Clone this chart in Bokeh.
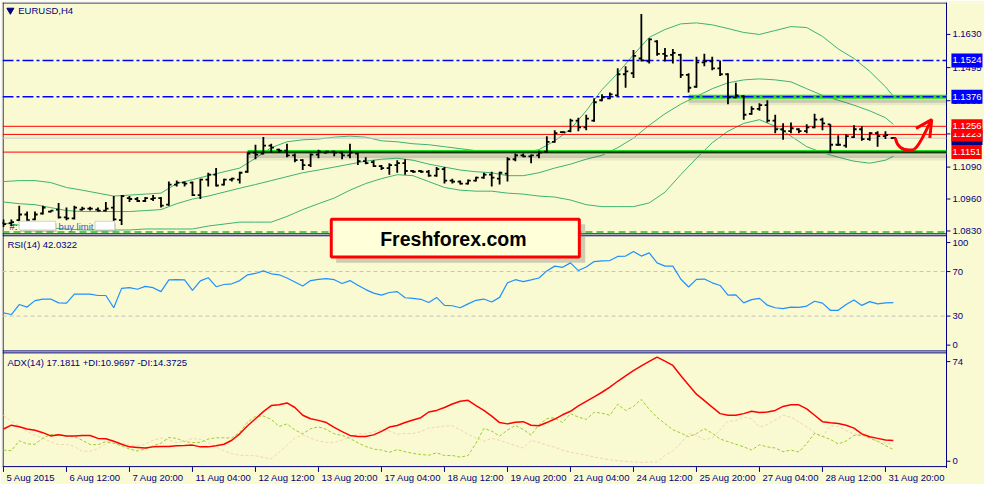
"""EURUSD H4 chart with Bollinger bands, RSI(14) and ADX(14) panels."""

from bokeh.core.properties import value
from bokeh.embed import file_html
from bokeh.models import ColumnDataSource, Label, Range1d
from bokeh.plotting import figure
from bokeh.resources import INLINE
from bokeh.transform import dodge

# ---------------------------------------------------------------- data
time_ticks = [0, 8, 16, 24, 32, 40, 48, 56, 64, 72, 80, 88, 96, 104, 112]
time_labels = ["5 Aug 2015", "6 Aug 12:00", "7 Aug 20:00", "11 Aug 04:00",
               "12 Aug 12:00", "13 Aug 20:00", "17 Aug 04:00", "18 Aug 12:00",
               "19 Aug 20:00", "21 Aug 04:00", "24 Aug 12:00", "25 Aug 20:00",
               "27 Aug 04:00", "28 Aug 12:00", "31 Aug 20:00"]

bar_open = [
    1.0862, 1.0862, 1.0874, 1.0897, 1.0877, 1.0901, 1.0909, 1.0917, 1.0885, 1.0881,
    1.0917, 1.0921, 1.0917, 1.0913, 1.0925, 1.0874, 1.0964, 1.0960, 1.0952, 1.0960,
    1.0964, 1.0937, 1.1019, 1.1027, 1.1027, 1.0976, 1.1039, 1.1059, 1.1019, 1.1039,
    1.1039, 1.1071, 1.1149, 1.1145, 1.1177, 1.1161, 1.1157, 1.1138, 1.1118, 1.1098,
    1.1141, 1.1149, 1.1153, 1.1149, 1.1138, 1.1145, 1.1114, 1.1110, 1.1094, 1.1086,
    1.1098, 1.1106, 1.1074, 1.1074, 1.1071, 1.1055, 1.1082, 1.1035, 1.1031, 1.1023,
    1.1035, 1.1047, 1.1059, 1.1043, 1.1063, 1.1122, 1.1138, 1.1134, 1.1138, 1.1153,
    1.1193, 1.1232, 1.1236, 1.1279, 1.1252, 1.1279, 1.1362, 1.1370, 1.1382, 1.1468,
    1.1472, 1.1532, 1.1520, 1.1602, 1.1551, 1.1547, 1.1547, 1.1465, 1.1417, 1.1516,
    1.1520, 1.1492, 1.1468, 1.1374, 1.1378, 1.1307, 1.1327, 1.1342, 1.1279, 1.1244,
    1.1236, 1.1244, 1.1236, 1.1252, 1.1283, 1.1264, 1.1181, 1.1177, 1.1212, 1.1244,
    1.1204, 1.1228, 1.1216, 1.1208]
bar_high = [
    1.0877, 1.0877, 1.0933, 1.0909, 1.0909, 1.0933, 1.0913, 1.0944, 1.0925, 1.0933,
    1.0929, 1.0929, 1.0925, 1.0948, 1.0972, 1.0976, 1.0972, 1.0968, 1.0968, 1.0976,
    1.0968, 1.1031, 1.1035, 1.1031, 1.1031, 1.1043, 1.1067, 1.1086, 1.1043, 1.1047,
    1.1071, 1.1149, 1.1181, 1.1212, 1.1185, 1.1165, 1.1185, 1.1145, 1.1122, 1.1145,
    1.1161, 1.1157, 1.1157, 1.1153, 1.1185, 1.1149, 1.1130, 1.1118, 1.1098, 1.1106,
    1.1118, 1.1122, 1.1078, 1.1078, 1.1078, 1.1090, 1.1090, 1.1043, 1.1035, 1.1039,
    1.1051, 1.1067, 1.1071, 1.1071, 1.1130, 1.1145, 1.1145, 1.1141, 1.1157, 1.1216,
    1.1240, 1.1236, 1.1287, 1.1291, 1.1303, 1.1370, 1.1386, 1.1394, 1.1492, 1.1500,
    1.1567, 1.1713, 1.1614, 1.1606, 1.1575, 1.1571, 1.1551, 1.1472, 1.1539, 1.1551,
    1.1539, 1.1524, 1.1472, 1.1433, 1.1382, 1.1338, 1.1350, 1.1362, 1.1303, 1.1268,
    1.1271, 1.1248, 1.1264, 1.1307, 1.1291, 1.1264, 1.1220, 1.1224, 1.1260, 1.1256,
    1.1232, 1.1236, 1.1236, 1.1212]
bar_low = [
    1.0846, 1.0850, 1.0870, 1.0870, 1.0874, 1.0897, 1.0905, 1.0881, 1.0874, 1.0877,
    1.0913, 1.0913, 1.0909, 1.0909, 1.0870, 1.0854, 1.0948, 1.0948, 1.0948, 1.0952,
    1.0925, 1.0933, 1.1011, 1.1011, 1.0972, 1.0960, 1.1011, 1.1011, 1.1015, 1.1031,
    1.1023, 1.1067, 1.1122, 1.1141, 1.1149, 1.1149, 1.1130, 1.1110, 1.1078, 1.1090,
    1.1126, 1.1145, 1.1134, 1.1122, 1.1126, 1.1098, 1.1102, 1.1090, 1.1078, 1.1059,
    1.1067, 1.1059, 1.1067, 1.1067, 1.1051, 1.1051, 1.1023, 1.1023, 1.1019, 1.1019,
    1.1031, 1.1043, 1.1011, 1.1019, 1.1031, 1.1114, 1.1130, 1.1106, 1.1126, 1.1149,
    1.1189, 1.1228, 1.1232, 1.1236, 1.1240, 1.1275, 1.1358, 1.1366, 1.1378, 1.1413,
    1.1453, 1.1520, 1.1512, 1.1543, 1.1520, 1.1512, 1.1453, 1.1394, 1.1413, 1.1500,
    1.1484, 1.1461, 1.1346, 1.1370, 1.1283, 1.1303, 1.1319, 1.1271, 1.1228, 1.1201,
    1.1228, 1.1228, 1.1228, 1.1248, 1.1240, 1.1149, 1.1177, 1.1169, 1.1208, 1.1197,
    1.1197, 1.1173, 1.1204, 1.1208]
bar_close = [
    1.0858, 1.0866, 1.0897, 1.0874, 1.0897, 1.0925, 1.0913, 1.0885, 1.0881, 1.0925,
    1.0921, 1.0921, 1.0913, 1.0921, 1.0877, 1.0972, 1.0960, 1.0952, 1.0964, 1.0964,
    1.0933, 1.1019, 1.1027, 1.1023, 1.0976, 1.1039, 1.1059, 1.1015, 1.1039, 1.1043,
    1.1067, 1.1145, 1.1141, 1.1177, 1.1169, 1.1157, 1.1138, 1.1118, 1.1098, 1.1141,
    1.1153, 1.1153, 1.1149, 1.1138, 1.1149, 1.1114, 1.1106, 1.1094, 1.1086, 1.1098,
    1.1106, 1.1074, 1.1071, 1.1071, 1.1055, 1.1082, 1.1035, 1.1031, 1.1023, 1.1035,
    1.1047, 1.1059, 1.1047, 1.1067, 1.1122, 1.1138, 1.1134, 1.1138, 1.1149, 1.1193,
    1.1228, 1.1232, 1.1279, 1.1252, 1.1287, 1.1354, 1.1374, 1.1386, 1.1468, 1.1480,
    1.1543, 1.1524, 1.1610, 1.1551, 1.1543, 1.1555, 1.1465, 1.1413, 1.1516, 1.1520,
    1.1492, 1.1468, 1.1374, 1.1382, 1.1303, 1.1327, 1.1342, 1.1279, 1.1244, 1.1236,
    1.1248, 1.1236, 1.1252, 1.1283, 1.1268, 1.1181, 1.1181, 1.1216, 1.1244, 1.1204,
    1.1228, 1.1216, 1.1220, 1.1208]

# Bollinger bands, read every second bar
band_index = list(range(0, 113, 2)) + [113]
band_upper = [
    1.1031, 1.1035, 1.1035, 1.1027, 1.1007, 1.0996, 1.0984, 1.0972, 1.0976, 1.0980,
    1.0984, 1.1023, 1.1039, 1.1055, 1.1071, 1.1086, 1.1126, 1.1169, 1.1193, 1.1201,
    1.1204, 1.1212, 1.1216, 1.1212, 1.1197, 1.1193, 1.1185, 1.1181, 1.1173, 1.1165,
    1.1157, 1.1153, 1.1149, 1.1149, 1.1161, 1.1197, 1.1244, 1.1319, 1.1405, 1.1472,
    1.1547, 1.1618, 1.1650, 1.1673, 1.1677, 1.1669, 1.1654, 1.1638, 1.1630, 1.1646,
    1.1662, 1.1658, 1.1622, 1.1571, 1.1532, 1.1480, 1.1417, 1.1378]
band_middle = [
    1.0948, 1.0941, 1.0937, 1.0925, 1.0913, 1.0909, 1.0909, 1.0909, 1.0909, 1.0913,
    1.0917, 1.0941, 1.0960, 1.0972, 1.0988, 1.1004, 1.1019, 1.1035, 1.1051, 1.1067,
    1.1078, 1.1090, 1.1102, 1.1114, 1.1122, 1.1126, 1.1118, 1.1102, 1.1090, 1.1078,
    1.1071, 1.1067, 1.1055, 1.1055, 1.1067, 1.1086, 1.1102, 1.1122, 1.1138, 1.1169,
    1.1208, 1.1260, 1.1307, 1.1346, 1.1378, 1.1409, 1.1433, 1.1445, 1.1449, 1.1445,
    1.1437, 1.1409, 1.1382, 1.1362, 1.1342, 1.1319, 1.1291, 1.1264]
band_lower = [
    1.0862, 1.0854, 1.0850, 1.0842, 1.0838, 1.0834, 1.0834, 1.0834, 1.0834, 1.0838,
    1.0838, 1.0838, 1.0838, 1.0850, 1.0858, 1.0866, 1.0866, 1.0866, 1.0889, 1.0917,
    1.0941, 1.0964, 1.0996, 1.1023, 1.1043, 1.1059, 1.1055, 1.1031, 1.1007, 1.0996,
    1.0992, 1.0992, 1.0984, 1.0980, 1.0972, 1.0968, 1.0956, 1.0937, 1.0929, 1.0929,
    1.0929, 1.0944, 1.0988, 1.1059, 1.1126, 1.1189, 1.1236, 1.1268, 1.1283, 1.1256,
    1.1216, 1.1173, 1.1149, 1.1130, 1.1114, 1.1106, 1.1118, 1.1134]

rsi = [
    32.9, 31.4, 40.4, 38.1, 43.9, 45.3, 45.3, 41.9, 41.6, 49.7,
    49.7, 49.7, 48.5, 48.5, 37.5, 54.9, 55.5, 54.1, 56.7, 55.5,
    52.0, 62.5, 62.7, 62.5, 53.2, 61.6, 64.5, 56.4, 58.4, 59.0,
    61.9, 67.1, 68.3, 70.6, 68.0, 67.1, 64.2, 60.7, 57.0, 61.9,
    63.0, 63.6, 62.7, 59.3, 61.9, 57.8, 53.8, 50.6, 48.8, 51.2,
    52.0, 46.5, 45.9, 45.1, 42.2, 46.8, 39.6, 39.3, 37.5, 41.0,
    44.2, 45.3, 42.7, 46.8, 59.9, 62.7, 61.0, 62.5, 64.2, 70.6,
    74.9, 73.8, 77.8, 70.9, 74.1, 79.0, 79.6, 79.9, 83.6, 83.9,
    88.0, 83.9, 86.8, 77.8, 74.9, 74.9, 63.3, 56.1, 63.0, 63.3,
    59.9, 57.5, 48.8, 49.1, 41.9, 44.8, 45.9, 39.8, 37.5, 36.7,
    38.1, 37.8, 39.0, 43.3, 41.6, 35.2, 35.2, 40.4, 44.5, 39.6,
    43.0, 41.0, 41.9, 42.03]
adx = [
    25.0, 27.6, 26.5, 25.0, 24.1, 22.5, 20.3, 21.0, 20.3, 20.3,
    20.6, 20.6, 18.6, 18.4, 16.6, 14.6, 12.8, 12.4, 12.0, 12.8,
    13.1, 13.1, 13.5, 13.7, 14.0, 12.8, 12.8, 13.5, 14.6, 17.3,
    21.7, 27.2, 32.0, 36.9, 41.0, 41.5, 42.8, 39.7, 34.4, 32.0,
    30.9, 29.4, 26.1, 23.2, 20.6, 19.9, 19.9, 21.0, 23.4, 26.3,
    27.4, 29.4, 31.1, 32.7, 36.6, 37.7, 39.7, 42.1, 43.9, 44.6,
    41.0, 37.7, 33.8, 29.4, 28.5, 29.6, 30.0, 27.6, 27.2, 29.4,
    31.8, 34.7, 37.1, 40.8, 43.9, 47.0, 50.1, 53.6, 57.6, 61.3,
    64.8, 68.1, 71.2, 74.1, 71.4, 68.4, 61.5, 55.1, 48.8, 44.4,
    39.9, 35.5, 34.4, 34.4, 35.5, 37.1, 36.2, 36.6, 37.7, 40.4,
    41.5, 41.5, 38.8, 34.4, 30.0, 29.2, 28.7, 27.6, 25.6, 21.7,
    19.7, 18.6, 17.5, 17.18]
plus_di = [
    10.6, 10.2, 17.0, 14.8, 14.6, 18.8, 21.2, 21.2, 20.1, 19.7,
    17.3, 14.4, 14.2, 16.4, 15.3, 13.5, 11.3, 10.0, 11.3, 13.5,
    15.3, 19.2, 18.6, 16.4, 15.7, 15.9, 18.1, 19.0, 19.0, 18.8,
    22.8, 29.6, 33.6, 33.8, 31.6, 26.7, 28.5, 24.3, 21.7, 25.2,
    26.5, 24.7, 21.7, 20.6, 18.6, 15.5, 13.1, 11.3, 10.6, 9.1,
    10.9, 9.5, 8.4, 7.6, 7.1, 8.7, 6.9, 6.9, 5.8, 6.9,
    15.3, 25.4, 23.6, 20.1, 24.3, 27.4, 24.7, 20.8, 28.0, 32.0,
    32.7, 29.4, 35.5, 33.1, 31.6, 36.4, 35.8, 34.4, 41.9, 37.7,
    40.4, 45.2, 38.4, 32.9, 28.7, 24.5, 22.3, 19.7, 21.9, 25.2,
    22.1, 18.1, 16.4, 14.6, 12.8, 10.6, 14.2, 12.8, 12.0, 9.5,
    10.6, 9.3, 15.1, 22.1, 19.9, 17.9, 14.8, 16.8, 20.6, 21.0,
    18.8, 16.6, 13.7, 10.97]
minus_di = [
    34.2, 30.5, 27.2, 23.2, 20.8, 18.8, 16.2, 14.4, 14.4, 13.1,
    9.8, 9.8, 11.5, 14.6, 16.8, 15.5, 14.2, 13.5, 14.6, 17.3,
    18.8, 17.5, 15.7, 16.6, 18.6, 17.9, 15.7, 12.8, 10.0, 8.2,
    7.1, 6.9, 6.7, 5.6, 4.7, 9.1, 13.9, 18.8, 21.2, 18.8,
    16.8, 15.9, 15.9, 17.5, 19.5, 21.7, 21.7, 23.0, 24.5, 23.6,
    21.4, 21.9, 21.9, 23.2, 25.6, 26.3, 27.0, 27.2, 24.5, 21.4,
    18.8, 16.6, 18.6, 17.3, 15.5, 13.7, 12.0, 17.3, 15.7, 14.0,
    12.6, 10.6, 9.1, 8.2, 7.1, 5.8, 4.9, 4.0, 3.4, 2.9,
    2.5, 2.1, 2.5, 2.5, 6.9, 10.2, 15.3, 21.9, 20.6, 17.7,
    19.0, 24.3, 30.3, 30.7, 33.1, 32.0, 26.3, 28.0, 31.1, 34.4,
    33.1, 29.8, 26.5, 22.5, 19.7, 27.2, 26.7, 23.9, 21.7, 20.6,
    19.0, 16.4, 15.3, 14.37]

price_ticks = [1.0830, 1.0960, 1.1090, 1.1225, 1.1360, 1.1495, 1.1630]
rsi_ticks = [0, 30, 70, 100]
rsi_levels = [30, 70]
adx_ticks = [0, 74]

dash_levels = [1.1524, 1.1376]          # blue dash-dot lines
red_levels = [1.1256, 1.1223, 1.1151]   # red horizontal lines
zone_levels = [1.1151, 1.1376]          # thick green lines
zone_start = [31, 87]                   # bar where each green line starts
buy_limit = 1.0826
bid = 1.1208

# ---------------------------------------------------------------- look
BG = "#FAFAD2"
NAVY = "#000080"
FONT = "Liberation Sans"
FRAME_W, FRAME_H = 982, 482
SCALE_X = 944 / 959          # canvas px per reference px
REF_BOTTOM = 2 + 498         # reference row shown at the bottom of the canvas


# reference pixel -> value, per panel (chart window is 2..961 x 2..482 there)
def bar_x(px):
    return (px - 3) / 8


def price_y(py):
    return 1.1760 - (py - 2) * 0.000394


def rsi_y(py):
    return 70 - (py - 280) * 40 / 46


def adx_y(py):
    return (482 - py) / 1.513 - 1


def rsi_py(v):
    return 280 - (v - 70) * 46 / 40


def adx_py(v):
    return 482 - (v + 1) * 1.513


def nudge(py, v, ticks, px=4.5):
    # MetaTrader pulls the end labels of a sub window inwards
    if v == max(ticks):
        return py + px
    if v == min(ticks):
        return py - px
    return py


X_START = bar_x(2)
X_AXIS = bar_x(961)
PX_PRICE = 0.000394

p = figure(
    frame_width=FRAME_W, frame_height=FRAME_H,
    x_range=Range1d(X_START, bar_x(2 + FRAME_W / SCALE_X)),
    y_range=Range1d(price_y(REF_BOTTOM), price_y(2)),
    x_axis_location=None, y_axis_location=None,
    output_backend="svg", toolbar_location=None,
    min_border_left=2, min_border_right=0, min_border_top=2, min_border_bottom=0,
)
p.extra_y_ranges = {
    "rsi": Range1d(rsi_y(REF_BOTTOM), rsi_y(2)),
    "adx": Range1d(adx_y(REF_BOTTOM), adx_y(2)),
}
p.background_fill_color = BG
p.border_fill_color = BG
p.outline_line_color = None
p.grid.visible = False


def hline(levels, x0=X_START, **kw):
    n = len(levels)
    starts = x0 if isinstance(x0, list) else [x0] * n
    return p.segment(x0=starts, y0=levels, x1=[X_AXIS] * n, y1=levels, **kw)


# window borders and panel separators
hline([price_y(2.5), price_y(241), price_y(243), price_y(362), price_y(364),
       price_y(481.5)], line_color=NAVY, line_width=1)
p.segment(x0=[bar_x(2.6), X_AXIS], y0=[price_y(2), price_y(0)],
          x1=[bar_x(2.6), X_AXIS], y1=[price_y(482), price_y(483)],
          line_color=NAVY, line_width=1)

# time scale below the windows
n_t = len(time_ticks)
p.segment(x0=time_ticks, y0=[price_y(482)] * n_t, x1=time_ticks,
          y1=[price_y(487)] * n_t, line_color=NAVY, line_width=1)
p.text(x=[t + 3 / 8 for t in time_ticks], y=[price_y(492.5)] * n_t, text=time_labels,
       text_font=value(FONT), text_font_size="9.5px", text_color=NAVY,
       text_baseline="middle")

# right scale: ticks and labels for the three panels
scale_items = [(t, f"{t:.4f}") for t in price_ticks]
scale_items += [(price_y(nudge(rsi_py(v), v, rsi_ticks)), str(v)) for v in rsi_ticks]
scale_items += [(price_y(nudge(adx_py(v), v, adx_ticks)), str(v)) for v in adx_ticks]
scale_pos = [a for a, _ in scale_items]
p.segment(x0=[X_AXIS] * len(scale_pos), y0=scale_pos,
          x1=[bar_x(965)] * len(scale_pos), y1=scale_pos,
          line_color=NAVY, line_width=1)
p.text(x=[bar_x(967)] * len(scale_pos), y=scale_pos, text=[b for _, b in scale_items],
       text_font=value(FONT), text_font_size="9.5px", text_color=NAVY,
       text_baseline="middle")

# Bollinger bands
for band in (band_upper, band_middle, band_lower):
    p.line(band_index, band, line_color="#3CB371", line_width=1)

# horizontal levels
hline(red_levels, line_color="#FF0000", line_width=1)
hline([bid], line_color="#C8C8C8", line_width=1)
hline([buy_limit], line_color="#2DB82D", line_width=1.5, line_dash="7 4")

for off, width, alpha in ((3, 6, 0.22), (6, 5, 0.10)):
    hline([lv - off * PX_PRICE for lv in zone_levels], x0=zone_start,
          line_color="#555555", line_alpha=alpha, line_width=width)
hline(zone_levels, x0=zone_start, line_color="#1EE01E", line_width=4)
hline(zone_levels[:1], x0=zone_start[:1], line_color="black", line_width=1.3)
hline(dash_levels, line_color="#0000FF", line_width=1.5, line_dash="11 3 3 3")

# OHLC bars
bars = ColumnDataSource(dict(idx=list(range(len(bar_open))), open=bar_open,
                             high=bar_high, low=bar_low, close=bar_close))
TICK = 0.34
p.segment(x0="idx", y0="low", x1="idx", y1="high", source=bars,
          line_color="black", line_width=1.8)
p.segment(x0=dodge("idx", -TICK), y0="open", x1="idx", y1="open", source=bars,
          line_color="black", line_width=1.8)
p.segment(x0="idx", y0="close", x1=dodge("idx", TICK), y1="close", source=bars,
          line_color="black", line_width=1.8)

# RSI panel
idx = list(range(len(rsi)))
p.segment(x0=[X_START] * 2, y0=rsi_levels, x1=[X_AXIS] * 2, y1=rsi_levels,
          y_range_name="rsi", line_color="#C0C0C0", line_width=1, line_dash="4 3")
p.line(idx, rsi, y_range_name="rsi", line_color="#1E90FF", line_width=1.2)

# ADX panel
p.line(idx, minus_di, y_range_name="adx", line_color="#F2D5B0", line_width=1,
       line_dash="3 2")
p.line(idx, plus_di, y_range_name="adx", line_color="#9ACD32", line_width=1,
       line_dash="3 2")
p.line(idx, adx, y_range_name="adx", line_color="#FF0000", line_width=1.5)

# hand drawn red arrow
p.bezier(x0=[bar_x(909), bar_x(928)], y0=[price_y(142), price_y(154)],
         x1=[bar_x(928), bar_x(945)], y1=[price_y(154), price_y(125)],
         cx0=[bar_x(911), bar_x(934)], cy0=[price_y(152), price_y(150)],
         cx1=[bar_x(917), bar_x(939)], cy1=[price_y(156), price_y(136)],
         line_color="#FF0000", line_width=3)
p.multi_line(xs=[[bar_x(930), bar_x(946), bar_x(944)]],
             ys=[[price_y(132), price_y(123), price_y(142)]],
             line_color="#FF0000", line_width=3)

# pending order tag
p.quad(left=[bar_x(20), bar_x(97)], right=[bar_x(57), bar_x(117)],
       top=[price_y(230), price_y(230)], bottom=[price_y(239), price_y(239)],
       fill_color="#888888", fill_alpha=0.4, line_alpha=0)
p.quad(left=[bar_x(19), bar_x(96)], right=[bar_x(56), bar_x(116)],
       top=[price_y(228), price_y(228)], bottom=[price_y(237), price_y(237)],
       fill_color="white", line_color="#D0D0D0", line_width=1)
p.text(x=[bar_x(9)], y=[price_y(233)], text=["#:"], text_font=value(FONT),
       text_font_size="9.5px", text_color=NAVY, text_baseline="middle")
p.text(x=[bar_x(59)], y=[price_y(233)], text=["buy limit"], text_font=value(FONT),
       text_font_size="9.5px", text_color="#5050D0", text_baseline="middle")

# watermark box across main and RSI panels
p.quad(left=[bar_x(341)], right=[bar_x(594)], top=[price_y(231)],
       bottom=[price_y(271)], fill_color="#777777", fill_alpha=0.35, line_alpha=0)
p.quad(left=[bar_x(336)], right=[bar_x(588)], top=[price_y(226)],
       bottom=[price_y(265)], fill_color="#FFFFDA", line_color="#FF0000",
       line_width=3)
p.add_layout(Label(x=bar_x(460), y=price_y(246), text="Freshforex.com",
                   text_font=FONT, text_font_style="bold", text_font_size="19.5px",
                   text_color="black", text_align="center", text_baseline="middle"))

# window captions
p.scatter(x=[bar_x(10)], y=[price_y(10)], marker="inverted_triangle", size=7,
          fill_color=NAVY, line_color=NAVY)
captions = [
    (18, 10, "EURUSD,H4"),
    (7, 252, "RSI(14) 42.0322"),
    (7, 374, "ADX(14) 17.1811 +DI:10.9697 -DI:14.3725"),
]
for cx, cy, ctext in captions:
    p.add_layout(Label(x=bar_x(cx), y=price_y(cy), text=ctext, text_font=FONT,
                       text_font_size="9.5px", text_color=NAVY,
                       text_baseline="middle"))

# price tags on the right scale
tags = [
    (1.1524, "#0000FF"),
    (1.1376, "#0000FF"),
    (bid, NAVY),
    (1.1223, "#FF0000"),
    (1.1256, "#FF0000"),
    (1.1151, "#FF0000"),
]
for level, colour in tags:
    p.add_layout(Label(x=bar_x(966), y=level, text=f"{level:.4f}", text_font=FONT,
                       text_font_size="9.5px", text_color="white",
                       background_fill_color=colour, padding=(1, 4),
                       text_baseline="middle"))

open("out.html", "w").write(file_html(p, INLINE))
